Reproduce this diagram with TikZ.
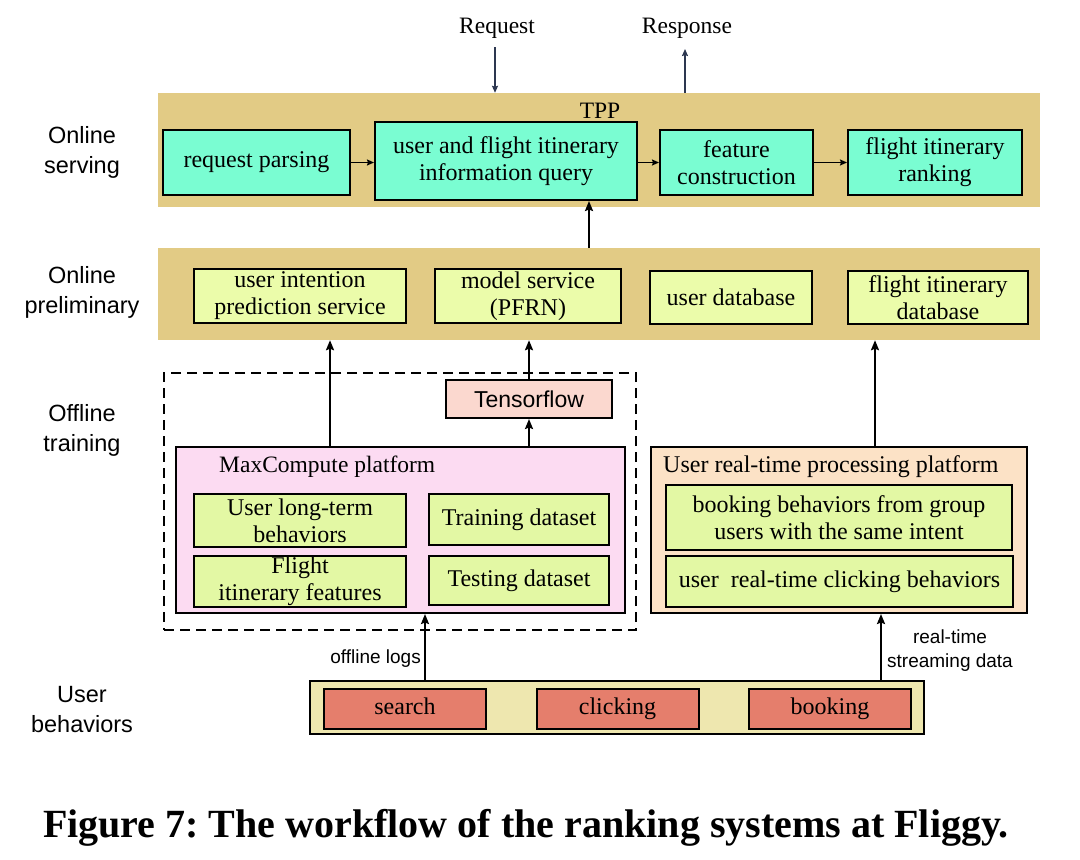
\documentclass[tikz,border=0pt]{standalone}
\usepackage{fontspec}
\setmainfont{Liberation Serif}
\setsansfont{Liberation Sans}
\usetikzlibrary{arrows.meta}

\definecolor{bandtan}{RGB}{226,203,133}
\definecolor{aqua}{RGB}{122,253,210}
\definecolor{limeA}{RGB}{235,252,170}
\definecolor{limeB}{RGB}{227,248,164}
\definecolor{tfpink}{RGB}{251,216,207}
\definecolor{mcpink}{RGB}{252,219,242}
\definecolor{rtpeach}{RGB}{252,226,198}
\definecolor{ubband}{RGB}{238,231,175}
\definecolor{salmon}{RGB}{229,126,108}
\definecolor{navy}{RGB}{45,55,80}

\begin{document}
\frenchspacing
\begin{tikzpicture}[x=1pt, y=-1pt,
		band/.style={fill=bandtan, inner sep=0pt},
		srvbox/.style={draw, line width=2pt, fill=aqua, align=center, inner sep=0pt, font=\fontsize{24}{27}\selectfont},
		prebox/.style={srvbox, fill=limeA},
		inbox/.style={srvbox, fill=limeB},
		lbl/.style={inner sep=0pt, font=\fontsize{23.5}{27}\selectfont},
		sidelbl/.style={align=center, inner sep=0pt, font=\sffamily\fontsize{23.5}{30}\selectfont},
		smalllbl/.style={inner sep=0pt, font=\sffamily\fontsize{19}{24}\selectfont},
		arr/.style={-{Stealth[length=10pt, width=8pt, inset=1.5pt]}, line width=2pt},
		harr/.style={-{Stealth[length=7pt, width=6pt, inset=1pt]}, line width=1.5pt}]
	\fill [white] (0,0) rectangle (1080,860);
	\useasboundingbox (0,0) rectangle (1080,860);

	% online serving
	\node (tpp) [band, minimum width=882pt, minimum height=114pt] at (599,150) {};
	\node (tpplabel) [lbl] at (600,111) {TPP};
	\node (rp) [srvbox, minimum width=187pt, minimum height=65pt] at (256.5,162.5) {request parsing};
	\node (query) [srvbox, minimum width=262pt, minimum height=78pt] at (506,161) {user and flight itinerary\\information query};
	\node (feat) [srvbox, minimum width=153pt, minimum height=65pt] at (736.5,162.5) {feature\\construction};
	\node (rank) [srvbox, minimum width=174pt, minimum height=65pt] at (935,162.5) {flight itinerary\\ranking};

	\draw [harr] (rp.east) -- (rp.east -| query.west);
	\draw [harr] (query.east |- feat.west) -- (feat.west);
	\draw [harr] (feat) -- (rank);

	\node (req) [lbl] at (497,28) {Request};
	\node (resp) [lbl] at (687,28) {Response};
	\coordinate (reqtop) at (495,47);
	\coordinate (resptip) at (685,49);
	\draw [harr, navy] (reqtop) -- (reqtop |- tpp.north);
	\draw [harr, navy] (resptip |- tpp.north) -- (resptip);

	% online preliminary
	\node (pre) [band, minimum width=882pt, minimum height=92pt] at (599,294) {};
	\node (uip) [prebox, minimum width=212pt, minimum height=54pt] at (300,296) {user intention\\prediction service};
	\node (ms) [prebox, minimum width=186pt, minimum height=54pt] at (528,296) {model service\\(PFRN)};
	\node (udb) [prebox, minimum width=162pt, minimum height=53pt] at (731,297.5) {user database};
	\node (fdb) [prebox, minimum width=180pt, minimum height=53pt] at (938,297.5) {flight itinerary\\database};

	\draw [arr] ([xshift=83pt]query.south |- pre.north) -- ([xshift=83pt]query.south);

	% offline training
	\node (offl) [draw, line width=2pt, dash pattern=on 10pt off 6pt, minimum width=472pt, minimum height=257pt] at (400,501.5) {};
	\node (tf) [srvbox, fill=tfpink, font=\sffamily\fontsize{23}{27}\selectfont, minimum width=166pt, minimum height=38pt] at (529,399) {Tensorflow};
	\node (mc) [draw, line width=2pt, fill=mcpink, minimum width=449pt, minimum height=166pt] at (400.5,530) {};
	\node (mclabel) [lbl, anchor=west] at (219,467) {MaxCompute platform};
	\node (ulb) [inbox, minimum width=212pt, minimum height=53pt] at (300,520.5) {User long-term\\behaviors};
	\node (trn) [inbox, minimum width=180pt, minimum height=51pt] at (519,519.5) {Training dataset};
	\node (fif) [inbox, minimum width=212pt, minimum height=51pt] at (300,581.5) {Flight\\itinerary features};
	\node (tst) [inbox, minimum width=180pt, minimum height=49pt] at (519,580.5) {Testing dataset};

	\draw [arr] ([xshift=-70.5pt]mc.north) -- ([xshift=-70.5pt]mc.north |- pre.south);
	\draw [arr] (tf.north) -- (tf.north |- pre.south);
	\draw [arr] (mc.north -| tf.south) -- (tf.south);

	% real-time platform
	\node (rt) [draw, line width=2pt, fill=rtpeach, minimum width=376pt, minimum height=166pt] at (839,530) {};
	\node (rtlabel) [lbl, font=\fontsize{24}{27}\selectfont, anchor=west] at (663,467) {User real-time processing platform};
	\node (bb) [inbox, minimum width=346pt, minimum height=65pt] at (839,517.5) {booking behaviors from group\\users with the same intent};
	\node (rc) [inbox, minimum width=347pt, minimum height=51pt] at (839.5,581.5) {user~ real-time clicking behaviors};

	\draw [arr] ([xshift=36pt]rt.north) -- ([xshift=36pt]rt.north |- pre.south);

	% user behaviors
	\node (ub) [draw, line width=1.5pt, fill=ubband, minimum width=614pt, minimum height=53pt] at (617,707.5) {};
	\foreach \act/\xpos in {search/405, clicking/617.5, booking/830}
	{
		\node (\act) [srvbox, fill=salmon, text height=16pt, text depth=5pt, minimum width=162pt, minimum height=40pt] at (\xpos,709) {\act};
	}

	\draw [arr] ([xshift=-192pt]ub.north) -- ([xshift=-192pt]ub.north |- mc.south);
	\node (offlog) [smalllbl, anchor=east] at (421,659) {offline logs};
	\draw [arr] ([xshift=264pt]ub.north) -- ([xshift=264pt]ub.north |- rt.south);
	\node (stream) [smalllbl, align=center] at (950,651) {real-time\\streaming data};

	% row names
	\node (ls) [sidelbl] at (82,152) {Online\\serving};
	\node (lp) [sidelbl] at (82,292) {Online\\preliminary};
	\node (lo) [sidelbl] at (82,430) {Offline\\training};
	\node (lu) [sidelbl] at (82,710) {User\\behaviors};

	\node (cap) [inner sep=0pt, font=\fontsize{40}{44}\bfseries\selectfont] at (526,828) {Figure 7: The workflow of the ranking systems at Fliggy.};
\end{tikzpicture}
\end{document}
